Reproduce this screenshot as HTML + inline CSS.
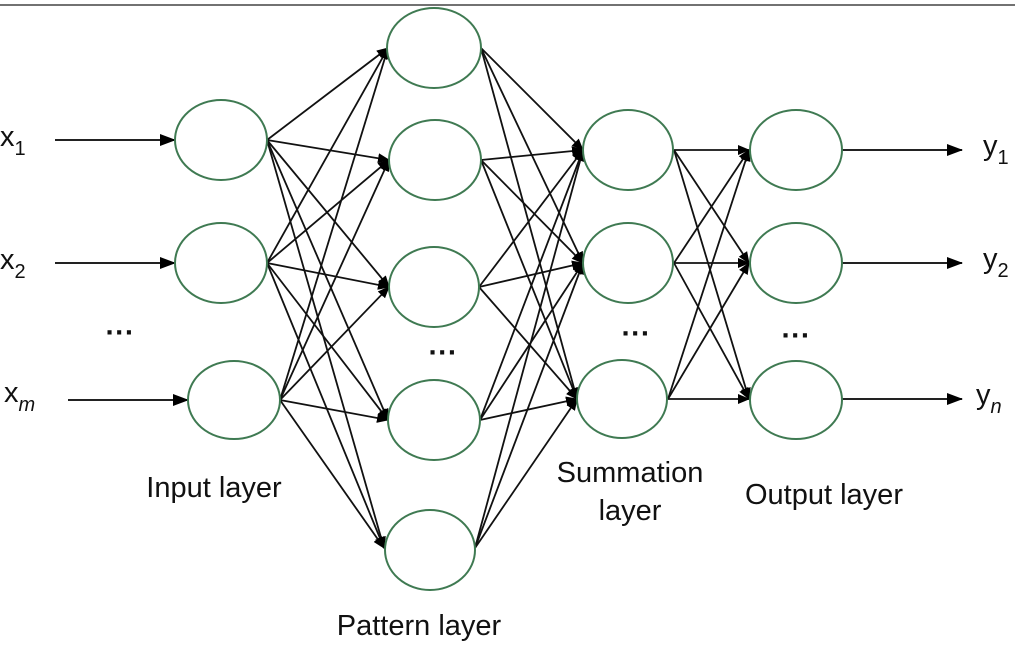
<!DOCTYPE html>
<html><head><style>
html,body{margin:0;padding:0;background:#fff;}
svg{display:block;}
text{font-family:"Liberation Sans",Arial,sans-serif;fill:#111;}
</style></head><body>
<svg width="1024" height="650" viewBox="0 0 1024 650" xmlns="http://www.w3.org/2000/svg">
<defs>
<marker id="a" markerWidth="12" markerHeight="12" refX="11" refY="6" orient="auto" markerUnits="userSpaceOnUse"><path d="M0,1 L12,6 L0,11 Z" fill="#000"/></marker>
<marker id="b" markerWidth="16" markerHeight="12" refX="15" refY="6" orient="auto" markerUnits="userSpaceOnUse"><path d="M0,0 L16,6 L0,12 Z" fill="#000"/></marker>
</defs>
<line x1="0" y1="5" x2="1015" y2="5" stroke="#444" stroke-width="1.5"/>
<g stroke="#111" stroke-width="1.8" marker-end="url(#a)">
<line x1="267" y1="140" x2="388" y2="48"/><line x1="267" y1="140" x2="389" y2="160"/><line x1="267" y1="140" x2="389" y2="287"/><line x1="267" y1="140" x2="388" y2="420"/><line x1="267" y1="140" x2="384" y2="548"/>
<line x1="267" y1="263" x2="388" y2="48"/><line x1="267" y1="263" x2="389" y2="160"/><line x1="267" y1="263" x2="389" y2="287"/><line x1="267" y1="263" x2="388" y2="420"/><line x1="267" y1="263" x2="384" y2="548"/>
<line x1="280" y1="400" x2="388" y2="48"/><line x1="280" y1="400" x2="389" y2="160"/><line x1="280" y1="400" x2="389" y2="287"/><line x1="280" y1="400" x2="388" y2="420"/><line x1="280" y1="400" x2="384" y2="548"/>
<line x1="481" y1="48" x2="583" y2="150"/><line x1="481" y1="48" x2="583" y2="263"/><line x1="481" y1="48" x2="577" y2="399"/>
<line x1="481" y1="160" x2="583" y2="150"/><line x1="481" y1="160" x2="583" y2="263"/><line x1="481" y1="160" x2="577" y2="399"/>
<line x1="479" y1="287" x2="583" y2="150"/><line x1="479" y1="287" x2="583" y2="263"/><line x1="479" y1="287" x2="577" y2="399"/>
<line x1="480" y1="420" x2="583" y2="150"/><line x1="480" y1="420" x2="583" y2="263"/><line x1="480" y1="420" x2="577" y2="399"/>
<line x1="475" y1="548" x2="583" y2="150"/><line x1="475" y1="548" x2="583" y2="263"/><line x1="475" y1="548" x2="577" y2="399"/>
<line x1="674" y1="150" x2="749" y2="150"/><line x1="674" y1="150" x2="749" y2="263"/><line x1="674" y1="150" x2="749" y2="399"/>
<line x1="674" y1="263" x2="749" y2="150"/><line x1="674" y1="263" x2="749" y2="263"/><line x1="674" y1="263" x2="749" y2="399"/>
<line x1="668" y1="399" x2="749" y2="150"/><line x1="668" y1="399" x2="749" y2="263"/><line x1="668" y1="399" x2="749" y2="399"/>
</g>
<g stroke="#222" stroke-width="2" marker-end="url(#b)">
<line x1="55" y1="140" x2="175" y2="140"/>
<line x1="55" y1="263" x2="175" y2="263"/>
<line x1="68" y1="400" x2="188" y2="400"/>
<line x1="842" y1="150" x2="962" y2="150"/>
<line x1="842" y1="263" x2="962" y2="263"/>
<line x1="842" y1="399" x2="962" y2="399"/>
</g>
<g fill="#fff" stroke="#3f7a52" stroke-width="2">
<ellipse cx="221" cy="140" rx="46" ry="40"/><ellipse cx="221" cy="263" rx="46" ry="40"/><ellipse cx="234" cy="400" rx="46" ry="39"/>
<ellipse cx="434" cy="48" rx="47" ry="40"/><ellipse cx="435" cy="160" rx="46" ry="40"/><ellipse cx="434" cy="287" rx="45" ry="40"/><ellipse cx="434" cy="420" rx="46" ry="40"/><ellipse cx="430" cy="550" rx="45" ry="40"/>
<ellipse cx="628" cy="150" rx="45" ry="40"/><ellipse cx="628" cy="263" rx="45" ry="40"/><ellipse cx="622" cy="399" rx="45" ry="39"/>
<ellipse cx="796" cy="150" rx="46" ry="40"/><ellipse cx="796" cy="263" rx="46" ry="40"/><ellipse cx="796" cy="400" rx="46" ry="39"/>
</g>
<g font-size="29">
<text x="0" y="146">x<tspan font-size="20" dy="9">1</tspan></text>
<text x="0" y="269">x<tspan font-size="20" dy="9">2</tspan></text>
<text x="4" y="402">x<tspan font-size="20" dy="9" font-style="italic">m</tspan></text>
<text x="983" y="155">y<tspan font-size="20" dy="9">1</tspan></text>
<text x="983" y="268">y<tspan font-size="20" dy="9">2</tspan></text>
<text x="976" y="404">y<tspan font-size="20" dy="9" font-style="italic">n</tspan></text>
<text x="214" y="497" text-anchor="middle">Input layer</text>
<text x="419" y="635" text-anchor="middle">Pattern layer</text>
<text x="630" y="482" text-anchor="middle">Summation</text>
<text x="630" y="520" text-anchor="middle">layer</text>
<text x="824" y="504" text-anchor="middle">Output layer</text>
<text x="120" y="342" text-anchor="middle" font-weight="bold">···</text>
<text x="443" y="362" text-anchor="middle" font-weight="bold">···</text>
<text x="636" y="343" text-anchor="middle" font-weight="bold">···</text>
<text x="796" y="345" text-anchor="middle" font-weight="bold">···</text>
</g>
</svg>
</body></html>
